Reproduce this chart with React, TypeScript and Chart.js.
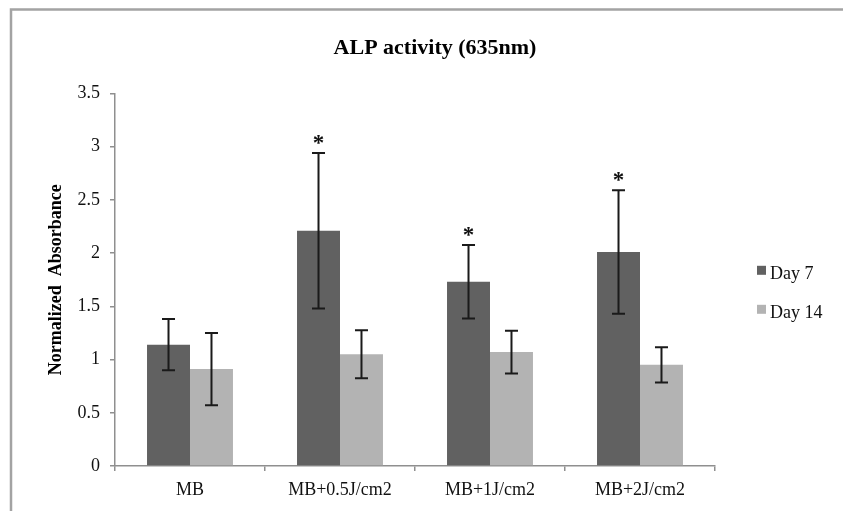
import { useEffect, useRef } from 'react';
import { Chart, registerables } from 'chart.js';

Chart.register(...registerables);

const categories = ['MB', 'MB+0.5J/cm2', 'MB+1J/cm2', 'MB+2J/cm2'];
const seriesNames = ['Day 7', 'Day 14'];
const day7 = [1.14, 2.21, 1.73, 2.01];
const day7Err = [0.24, 0.73, 0.345, 0.58];
const day14 = [0.91, 1.05, 1.07, 0.95];
const day14Err = [0.34, 0.225, 0.2, 0.165];
const day7Significant = [false, true, true, true];
const yTicks = { min: 0, max: 3.5, step: 0.5 };

const SERIF = "'Liberation Serif', 'Times New Roman', Times, serif";
const DARK = '#616161';
const LIGHT = '#b3b3b3';
const AXIS = '#8f8f8f';

export default function App() {
  const ref = useRef<HTMLCanvasElement | null>(null);

  useEffect(() => {
    if (!ref.current) return;
    const errs = [day7Err, day14Err];

    const framePlugin = {
      id: 'frame',
      beforeDraw(chart: any) {
        const ctx = chart.ctx;
        ctx.save();
        ctx.fillStyle = '#ffffff';
        ctx.fillRect(0, 0, chart.width, chart.height);
        ctx.strokeStyle = '#a3a3a3';
        ctx.lineWidth = 2.5;
        ctx.beginPath();
        ctx.moveTo(11, chart.height + 10);
        ctx.lineTo(11, 9.5);
        ctx.lineTo(chart.width + 10, 9.5);
        ctx.stroke();
        ctx.restore();
      },
    };

    const errorBarPlugin = {
      id: 'errorBars',
      afterDatasetsDraw(chart: any) {
        const ctx = chart.ctx;
        const yScale = chart.scales.y;
        ctx.save();
        ctx.strokeStyle = '#1a1a1a';
        ctx.lineWidth = 2;
        chart.data.datasets.forEach((ds: any, di: number) => {
          const meta = chart.getDatasetMeta(di);
          meta.data.forEach((bar: any, i: number) => {
            const v = ds.data[i];
            const e = errs[di][i];
            const yTop = yScale.getPixelForValue(v + e);
            const yBot = yScale.getPixelForValue(v - e);
            const x = bar.x;
            ctx.beginPath();
            ctx.moveTo(x, yTop);
            ctx.lineTo(x, yBot);
            ctx.moveTo(x - 6.5, yTop);
            ctx.lineTo(x + 6.5, yTop);
            ctx.moveTo(x - 6.5, yBot);
            ctx.lineTo(x + 6.5, yBot);
            ctx.stroke();
            if (di === 0 && day7Significant[i]) {
              ctx.fillStyle = '#111';
              ctx.font = `bold 23px ${SERIF}`;
              ctx.textAlign = 'center';
              ctx.textBaseline = 'alphabetic';
              ctx.fillText('*', x, yTop - 3);
            }
          });
        });
        ctx.restore();
      },
    };

    const legendPlugin = {
      id: 'sideLegend',
      afterDraw(chart: any) {
        const ctx = chart.ctx;
        const area = chart.chartArea;
        const boxTops = [172.4, 211.4];
        const baselines = [185.2, 224.7];
        ctx.save();
        chart.data.datasets.forEach((ds: any, i: number) => {
          ctx.fillStyle = ds.backgroundColor;
          ctx.fillRect(area.right + 42, area.top + boxTops[i], 9, 9);
          ctx.fillStyle = '#111';
          ctx.font = `18px ${SERIF}`;
          ctx.textAlign = 'left';
          ctx.textBaseline = 'alphabetic';
          ctx.fillText(ds.label, area.right + 55, area.top + baselines[i]);
        });
        ctx.restore();
      },
    };

    const chart = new Chart(ref.current, {
      type: 'bar',
      data: {
        labels: categories,
        datasets: [
          { label: seriesNames[0], data: day7, backgroundColor: DARK, borderWidth: 0 },
          { label: seriesNames[1], data: day14, backgroundColor: LIGHT, borderWidth: 0 },
        ],
      },
      options: {
        responsive: false,
        animation: false,
        layout: { padding: { left: 27, right: 0, top: 0, bottom: 0 } },
        datasets: { bar: { categoryPercentage: 0.573, barPercentage: 1 } },
        plugins: {
          legend: { display: false },
          tooltip: { enabled: false },
          title: {
            display: true,
            text: 'ALP activity (635nm)',
            color: '#000',
            font: { family: SERIF, size: 22, weight: 'bold' },
            padding: { top: 35, bottom: 32 },
          },
        },
        scales: {
          x: {
            grid: { display: true, drawOnChartArea: false, drawTicks: true, tickLength: 5, color: AXIS, lineWidth: 1.5, offset: true },
            border: { display: true, color: AXIS, width: 1.5 },
            ticks: { color: '#111', font: { family: SERIF, size: 18 }, padding: 8, maxRotation: 0 },
            afterFit: (s: any) => { s.height = 45; },
          },
          y: {
            min: yTicks.min,
            max: yTicks.max,
            grid: { display: true, drawOnChartArea: false, drawTicks: true, tickLength: 5, color: AXIS, lineWidth: 1.5 },
            border: { display: true, color: AXIS, width: 1.5 },
            ticks: {
              stepSize: yTicks.step,
              color: '#111',
              font: { family: SERIF, size: 18 },
              padding: 10,
              callback: (v: any) => String(Number(v)),
            },
            title: {
              display: true,
              text: 'Normalized  Absorbance',
              color: '#000',
              font: { family: SERIF, size: 18, weight: 'bold' },
              padding: { top: 19, bottom: 4 },
            },
            afterFit: (s: any) => { s.width = 88; },
          },
          y2: {
            position: 'right',
            display: true,
            grid: { display: false },
            border: { display: false },
            ticks: { display: false },
            afterFit: (s: any) => { s.width = 128; },
          },
        },
      },
      plugins: [framePlugin, errorBarPlugin, legendPlugin],
    } as any);

    return () => chart.destroy();
  }, []);

  return (
    <div style={{ position: 'absolute', left: 0, top: 0, width: 843, height: 511, background: '#fff' }}>
      <canvas ref={ref} width={843} height={511} style={{ display: 'block', width: 843, height: 511 }} />
    </div>
  );
}
